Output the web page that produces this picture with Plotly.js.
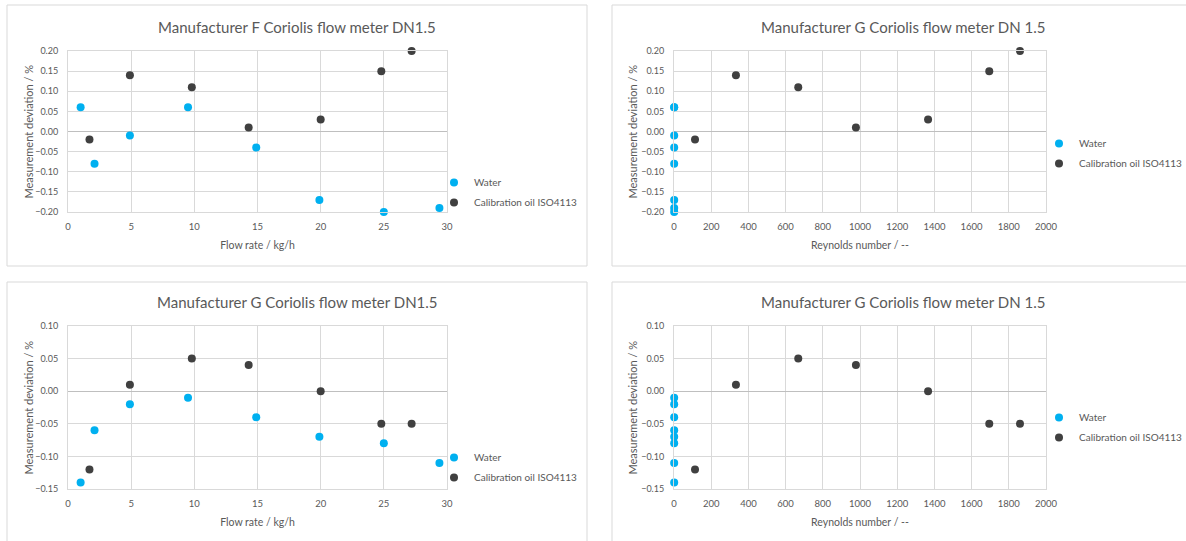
<!DOCTYPE html>
<html><head><meta charset="utf-8">
<script src="https://cdn.plot.ly/plotly-3.0.1.min.js"></script>
<style>html,body{margin:0;padding:0;background:#fff;overflow:hidden}#chart{width:1186px;height:541px}</style>
</head><body><div id="chart"></div>
<script>
// ---------- DATA ----------
const seriesNames = ['Water', 'Calibration oil ISO4113'];
const panelTitles = [
  'Manufacturer F Coriolis flow meter DN1.5',
  'Manufacturer G Coriolis flow meter DN 1.5',
  'Manufacturer G Coriolis flow meter DN1.5',
  'Manufacturer G Coriolis flow meter DN 1.5'
];
const xTitles = ['Flow rate / kg/h', 'Reynolds number / --', 'Flow rate / kg/h', 'Reynolds number / --'];
const yTitle = 'Measurement deviation / %';

// Panel 1: Manufacturer F, deviation vs flow rate
const fWaterFlow = [1.0, 2.1, 4.9, 9.5, 14.9, 19.9, 25.0, 29.4];
const fWaterDev  = [0.06, -0.08, -0.01, 0.06, -0.04, -0.17, -0.20, -0.19];
const fOilFlow   = [1.7, 4.9, 9.8, 14.3, 20.0, 24.8, 27.2];
const fOilDev    = [-0.02, 0.14, 0.11, 0.01, 0.03, 0.15, 0.20];

// Panel 2: deviation vs Reynolds number (upper right)
const topWaterRe  = [1, 1, 1, 1, 1, 1, 1, 1];
const topWaterDev = [0.06, -0.08, -0.01, 0.06, -0.04, -0.17, -0.20, -0.19];
const topOilRe    = [113, 333, 668, 978, 1366, 1695, 1860];
const topOilDev   = [-0.02, 0.14, 0.11, 0.01, 0.03, 0.15, 0.20];

// Panel 3: Manufacturer G, deviation vs flow rate
const gWaterFlow = [1.0, 2.1, 4.9, 9.5, 14.9, 19.9, 25.0, 29.4];
const gWaterDev  = [-0.14, -0.06, -0.02, -0.01, -0.04, -0.07, -0.08, -0.11];
const gOilFlow   = [1.7, 4.9, 9.8, 14.3, 20.0, 24.8, 27.2];
const gOilDev    = [-0.12, 0.01, 0.05, 0.04, 0.00, -0.05, -0.05];

// Panel 4: Manufacturer G, deviation vs Reynolds number
const gWaterRe    = [1, 1, 1, 1, 1, 1, 1, 1];
const gWaterDevRe = [-0.14, -0.06, -0.02, -0.01, -0.04, -0.07, -0.08, -0.11];
const gOilRe      = [113, 333, 668, 978, 1366, 1695, 1860];
const gOilDevRe   = [-0.12, 0.01, 0.05, 0.04, 0.00, -0.05, -0.05];

// ---------- LAYOUT ----------
const W = 1186, H = 541;
const FONT = 'Lato, "Open Sans", sans-serif';
const TXT = '#595959';
const WATER_C = '#00B0F0', OIL_C = '#404040';

const px = v => v / W;
const py = v => 1 - v / H;

const plots = [
  {x0: 68,  x1: 447,  y0: 51,  y1: 212, xr: [0, 30],   xd: 5,   yr: [-0.2, 0.2],   yd: 0.05},
  {x0: 674, x1: 1046, y0: 51,  y1: 212, xr: [0, 2000], xd: 200, yr: [-0.2, 0.2],   yd: 0.05},
  {x0: 68,  x1: 447,  y0: 326, y1: 489, xr: [0, 30],   xd: 5,   yr: [-0.15, 0.1],  yd: 0.05},
  {x0: 674, x1: 1046, y0: 326, y1: 489, xr: [0, 2000], xd: 200, yr: [-0.15, 0.1],  yd: 0.05}
];
const legendPos = [{x: 434, y: 168}, {x: 1039, y: 129}, {x: 434, y: 443}, {x: 1039, y: 403}];
const titlePos = [{x: 297, y: 27}, {x: 903, y: 27}, {x: 297, y: 302}, {x: 903, y: 302}];
const yTitleX = [28, 632, 28, 632];
const boxes = [
  {x0: 7, x1: 587, y0: 5, y1: 266},
  {x0: 612, x1: 1200, y0: 5, y1: 266},
  {x0: 7, x1: 587, y0: 282, y1: 545},
  {x0: 612, x1: 1200, y0: 282, y1: 545}
];

const dataSets = [
  [fWaterFlow, fWaterDev, fOilFlow, fOilDev],
  [topWaterRe, topWaterDev, topOilRe, topOilDev],
  [gWaterFlow, gWaterDev, gOilFlow, gOilDev],
  [gWaterRe, gWaterDevRe, gOilRe, gOilDevRe]
];

const traces = [];
const layout = {
  width: W, height: H,
  margin: {l: 0, r: 0, t: 0, b: 0, pad: 0, autoexpand: false},
  paper_bgcolor: '#ffffff', plot_bgcolor: '#ffffff',
  font: {family: FONT, color: TXT, size: 10},
  showlegend: true,
  shapes: [], annotations: []
};

dataSets.forEach((d, i) => {
  const n = i === 0 ? '' : String(i + 1);
  const legName = 'legend' + n;
  const common = {type: 'scatter', mode: 'markers', xaxis: 'x' + n, yaxis: 'y' + n,
                  legend: legName, cliponaxis: false, hoverinfo: 'x+y'};
  traces.push(Object.assign({}, common, {name: seriesNames[0], x: d[0], y: d[1],
    legendgroup: 'w' + i, marker: {color: WATER_C, size: 8}}));
  traces.push(Object.assign({}, common, {name: seriesNames[1], x: d[2], y: d[3],
    legendgroup: 'o' + i, marker: {color: OIL_C, size: 8}}));

  const p = plots[i];
  layout['xaxis' + n] = {
    domain: [px(p.x0), px(p.x1)], anchor: 'y' + n,
    range: p.xr, dtick: p.xd, tick0: 0,
    showgrid: true, gridcolor: '#d9d9d9', gridwidth: 1,
    zeroline: false, showline: true, mirror: true, linecolor: '#d9d9d9', linewidth: 1,
    ticks: '', ticklabelstandoff: 6,
    tickfont: {family: FONT, size: 9.5, color: TXT},
    title: {text: xTitles[i], font: {family: FONT, size: 10.5, color: TXT}, standoff: 10},
    fixedrange: true
  };
  layout['yaxis' + n] = {
    domain: [py(p.y1), py(p.y0)], anchor: 'x' + n,
    range: p.yr, dtick: p.yd, tick0: 0, tickformat: '.2f',
    showgrid: true, gridcolor: '#d9d9d9', gridwidth: 1,
    zeroline: true, zerolinecolor: '#bfbfbf', zerolinewidth: 1,
    showline: true, mirror: true, linecolor: '#d9d9d9', linewidth: 1,
    ticks: '', ticklabelstandoff: 7,
    tickfont: {family: FONT, size: 9, color: TXT},
    fixedrange: true
  };
  layout[legName] = {
    x: px(legendPos[i].x), y: py(legendPos[i].y), xanchor: 'left', yanchor: 'top',
    xref: 'paper', yref: 'paper',
    bgcolor: 'rgba(0,0,0,0)', borderwidth: 0,
    font: {family: FONT, size: 10, color: TXT},
    itemclick: false, itemdoubleclick: false, tracegroupgap: 1
  };
  layout.annotations.push({
    text: panelTitles[i], xref: 'paper', yref: 'paper',
    x: px(titlePos[i].x), y: py(titlePos[i].y), xanchor: 'center', yanchor: 'middle',
    showarrow: false, font: {family: FONT, size: 15, color: TXT}
  });
  layout.annotations.push({
    text: yTitle, xref: 'paper', yref: 'paper', textangle: -90,
    x: px(yTitleX[i]), y: py((p.y0 + p.y1) / 2), xanchor: 'center', yanchor: 'middle',
    showarrow: false, font: {family: FONT, size: 11, color: TXT}
  });
  const b = boxes[i];
  layout.shapes.push({type: 'rect', xref: 'paper', yref: 'paper', layer: 'below',
    x0: px(b.x0), x1: px(b.x1), y0: py(b.y1), y1: py(b.y0),
    line: {color: '#d9d9d9', width: 1}, fillcolor: 'rgba(0,0,0,0)'});
});

Plotly.newPlot('chart', traces, layout, {displayModeBar: false, responsive: false});
</script>
</body></html>
